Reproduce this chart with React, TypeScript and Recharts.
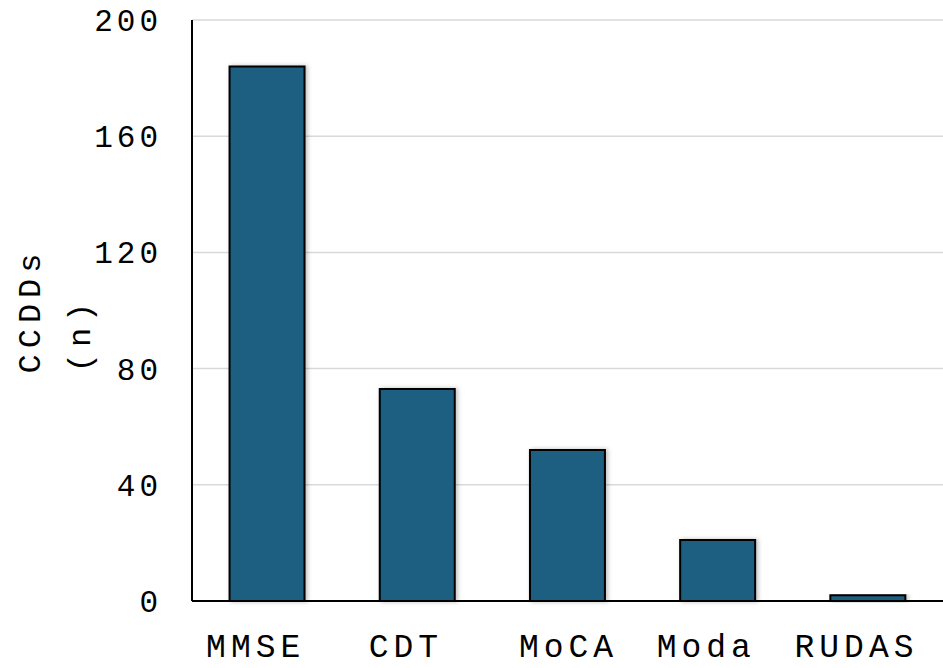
import { BarChart, Bar, XAxis, YAxis, CartesianGrid } from "recharts";

const CATEGORIES = ["MMSE", "CDT", "MoCA", "Moda", "RUDAS"];
// tick text as printed in the source (some carry a trailing space)
const TICK_LABELS = ["MMSE ", "CDT ", "MoCA", "Moda ", "RUDAS "];
const COUNTS = [184, 73, 52, 21, 2];
const Y_TICKS = [0, 40, 80, 120, 160, 200];

const data = CATEGORIES.map((name, i) => ({ name, value: COUNTS[i] }));

const FONT = "'Liberation Mono', 'Courier New', monospace";

// two-line rotated y label
function YLabel(props: any) {
  const vb = props.viewBox || {};
  const cy = vb.y + vb.height / 2;
  return (
    <g fontFamily={FONT} fontSize={32} fill="#000" style={{ letterSpacing: 6 }}>
      <text x={31} y={cy} transform={`rotate(-90, 31, ${cy})`} textAnchor="middle" dominantBaseline="central">
        CCDDs
      </text>
      <text x={81} y={cy + 24} transform={`rotate(-90, 81, ${cy + 24})`} textAnchor="middle" dominantBaseline="central">
        (n)
      </text>
    </g>
  );
}

function XTick(props: any) {
  const { x, y, index } = props;
  return (
    <text
      x={x + 1}
      y={y}
      dy="0.71em"
      textAnchor="middle"
      fontFamily={FONT}
      fontSize={33}
      fill="#000"
      style={{ letterSpacing: 5, whiteSpace: "pre" }}
    >
      {TICK_LABELS[index]}
    </text>
  );
}

export default function App() {
  return (
    <div style={{ position: "absolute", left: 0, top: 0, background: "#fff" }}>
      <BarChart
        width={943}
        height={668}
        data={data}
        margin={{ top: 20, right: 0, bottom: 0, left: 0 }}
        barCategoryGap="25%"
      >
        <defs>
          <filter id="shadow" x="-20%" y="-20%" width="140%" height="140%">
            <feDropShadow dx="2" dy="0" stdDeviation="2" floodColor="#000" floodOpacity="0.25" />
          </filter>
        </defs>
        <CartesianGrid vertical={false} stroke="#d9d9d9" strokeWidth={1.5} />
        <XAxis
          dataKey="name"
          height={67}
          tickLine={false}
          tickSize={0}
          tickMargin={33}
          axisLine={{ stroke: "#000", strokeWidth: 2 }}
          tick={<XTick />}
          interval={0}
        />
        <YAxis
          width={192}
          domain={[0, 200]}
          ticks={Y_TICKS}
          tickLine={false}
          tickSize={0}
          tickMargin={30}
          axisLine={{ stroke: "#000", strokeWidth: 2 }}
          tick={{ fontFamily: FONT, fontSize: 31, fill: "#000", letterSpacing: 4 }}
          label={<YLabel />}
        />
        <Bar
          dataKey="value"
          fill="#1a5e80"
          stroke="#000"
          strokeWidth={2}
          filter="url(#shadow)"
          isAnimationActive={false}
        />
      </BarChart>
    </div>
  );
}
